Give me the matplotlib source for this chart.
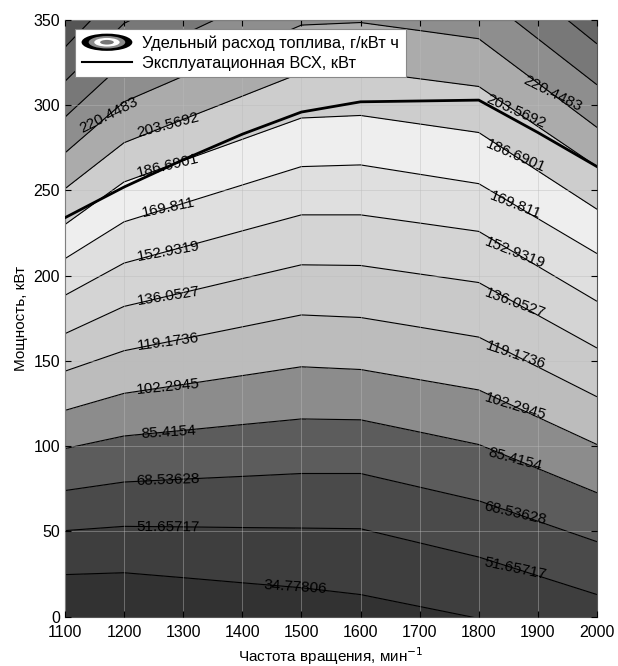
import numpy as np
import matplotlib.pyplot as plt
from matplotlib.patches import Ellipse, Patch
from matplotlib.legend_handler import HandlerBase
from matplotlib.lines import Line2D

plt.rcParams['font.family'] = ['Liberation Sans', 'DejaVu Sans']

# data
rpm = [1100, 1200, 1300, 1400, 1500, 1600, 1700, 1800, 1900, 2000]

fuel_levels = [1.01985, 17.89896, 34.77806, 51.65717, 68.53628, 85.4154,
               102.2945, 119.1736, 136.0527, 152.9319, 169.811, 186.6901,
               203.5692, 220.4483, 237.3274, 254.2065, 271.0856, 287.9647]

# power (kW) where each fuel level line sits, one row per level, one column per rpm
level_power = [
    [-25, -24, -28, -32, -36, -42, -50, -60, -68, -77],
    [-2, -1, -4, -7, -10, -14, -22, -30, -38, -47],
    [24.7, 25.8, 22.9, 19.9, 17, 13, 6, -1, -8, -17],
    [50.5, 53, 52.7, 52.3, 52, 51.6, 43.3, 35, 24, 13],
    [74, 79, 80.7, 82.3, 84, 84, 76, 68, 56, 44],
    [98.6, 106, 109.3, 112.7, 116, 115.5, 108.3, 101, 86.9, 72.7],
    [121, 131, 136.2, 141.4, 146.6, 145, 139, 133, 117, 101],
    [144, 156, 163, 170, 177, 175.5, 169.8, 164, 146.5, 129],
    [166, 182, 190.1, 198.3, 206.4, 206, 201, 196, 176.8, 157.6],
    [188.5, 207.4, 216.8, 226.3, 235.7, 235.7, 230.9, 226, 205.5, 185],
    [210, 231.6, 242.4, 253.2, 264, 265, 259.5, 254, 233.5, 213],
    [230, 255, 267.5, 280, 292.5, 294, 289, 284, 261.5, 239],
    [251, 278, 291.7, 305.3, 319, 320, 315.5, 311, 287.5, 264],
    [272, 302, 317, 332, 347, 348.5, 343.8, 339, 313, 287],
    [293, 325, 341.3, 357.7, 374, 376, 371, 366, 339, 312],
    [314, 348, 365, 383, 400, 402, 397, 392, 364, 336],
    [334, 370, 388, 406, 424, 426, 421, 416, 388, 358],
    [354, 392, 410, 428, 446, 448, 443, 438, 410, 380],
]

vsx_power = [234, 252, 268, 283, 296, 302, 302.5, 303, 284, 264]

band_colors = ['#303030', '#323232', '#3e3e3e', '#4a4a4a', '#5c5c5c', '#8c8c8c',
               '#bcbcbc', '#c9c9c9', '#d4d4d4', '#dfdfdf', '#eeeeee', '#cdcdcd',
               '#ababab', '#8e8e8e', '#787878', '#666666', '#555555']

X, _ = np.meshgrid(rpm, fuel_levels)
Y = np.array(level_power, dtype=float)
Z = np.repeat(np.array(fuel_levels)[:, None], len(rpm), axis=1)


class ContourIcon(HandlerBase):
    def create_artists(self, legend, orig_handle, xdescent, ydescent,
                       width, height, fontsize, trans):
        cx = width / 2 - xdescent
        cy = height / 2 - ydescent
        out = []
        for s, c in zip([1.0, 0.72, 0.5, 0.27], ['black', '#8a8a8a', 'white', '#777777']):
            out.append(Ellipse((cx, cy), width * s, height * 1.5 * s,
                               facecolor=c, edgecolor='none', transform=trans))
        return out


fig = plt.figure(figsize=(6.18, 6.66), dpi=100)
ax = fig.add_axes([0.105, 0.074, 0.861, 0.896])

ax.contourf(X, Y, Z, levels=fuel_levels, colors=band_colors)
cs = ax.contour(X, Y, Z, levels=fuel_levels[1:-1], colors='k', linewidths=0.8)
ax.plot(rpm, vsx_power, color='k', lw=2.0, zorder=5)

# contour labels: left and right of each line, one at the bottom
fmt = lambda v: '%.7g' % v
label_pos = []
for i in range(3, 14):
    xl = 1275
    if i == 13:
        xl = 1175
    xr = 1925 if i == 13 else 1862
    label_pos.append((xl, np.interp(xl, rpm, level_power[i])))
    label_pos.append((xr, np.interp(xr, rpm, level_power[i])))
label_pos.append((1490, np.interp(1490, rpm, level_power[2])))
ax.clabel(cs, manual=label_pos, inline=False, fmt=fmt, fontsize=11, colors='k')

ax.set_xlim(1100, 2000)
ax.set_ylim(0, 350)
ax.set_xticks(range(1100, 2001, 100))
ax.set_yticks(range(0, 351, 50))
ax.tick_params(direction='in', top=True, right=True, labelsize=11.5, length=4)
ax.tick_params(axis='x', pad=6)
ax.grid(True, color='#bbbbbb', lw=0.6, alpha=0.5)
ax.set_axisbelow(False)
for s in ax.spines.values():
    s.set_color('#555555')
    s.set_linewidth(0.8)

ax.set_xlabel('Частота вращения, мин$^{-1}$', fontsize=11, labelpad=4)
ax.set_ylabel('Мощность, кВт', fontsize=11, labelpad=4)

icon = Patch()
bold = Line2D([], [], color='k', lw=1.5)
leg = ax.legend([icon, bold],
                ['Удельный расход топлива, г/кВт ч', 'Эксплуатационная ВСХ, кВт'],
                handler_map={Patch: ContourIcon()}, loc='upper left',
                bbox_to_anchor=(0.019, 0.985), fontsize=11.8, fancybox=False,
                framealpha=1, edgecolor='#888888', handlelength=3.1,
                borderaxespad=0, borderpad=0.4, labelspacing=0.3,
                handletextpad=0.6)
leg.get_frame().set_linewidth(0.8)
leg.set_zorder(10)

fig.savefig('out.png', dpi=100)
